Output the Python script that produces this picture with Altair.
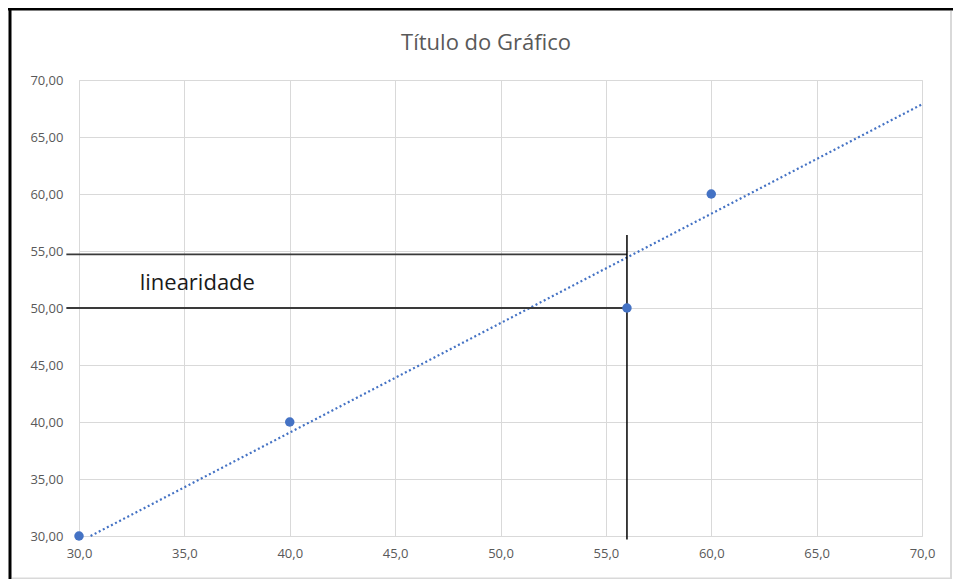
import altair as alt
import pandas as pd

# data points
pts_x = [30, 40, 56, 60]
pts_y = [30, 40, 50, 60]

# dotted linear trendline (as drawn, clipped at the axis minimum)
trend_x = [30.55, 70.0]
trend_y = [30.0, 67.87]

# black guide lines
hline_y = [54.7, 50.0]
hline_x0 = [29.4, 29.4]
hline_x1 = [56.0, 56.0]
vline_x = [56.0]
vline_y0 = [29.7]
vline_y1 = [56.4]

annot_x = [32.88]
annot_y = [52.2]
annot_text = ["linearidade"]

chart_title = ["Título do Gráfico"]

x_ticks = [30, 35, 40, 45, 50, 55, 60, 65, 70]
y_ticks = [30, 35, 40, 45, 50, 55, 60, 65, 70]

FONT = "Open Sans"
GRAY = "#595959"
BLUE = "#4472C4"

xscale = alt.Scale(domain=[30, 70], nice=False, zero=False)
yscale = alt.Scale(domain=[30, 70], nice=False, zero=False)

xaxis = alt.Axis(values=x_ticks, labelExpr="replace(format(datum.value, '.1f'), '.', ',')",
                 title=None, grid=True, gridColor="#d9d9d9", domain=False, ticks=False,
                 labelFlush=False, labelOverlap=False,
                 labelColor=GRAY, labelFont=FONT, labelFontSize=13, labelPadding=11)
yaxis = alt.Axis(values=y_ticks, labelExpr="replace(format(datum.value, '.2f'), '.', ',')",
                 title=None, grid=True, gridColor="#d9d9d9", domain=False, ticks=False,
                 labelFlush=False, labelOverlap=False,
                 labelColor=GRAY, labelFont=FONT, labelFontSize=13, labelPadding=16)

pts = pd.DataFrame({"x": pts_x, "y": pts_y})
trend = pd.DataFrame({"x": trend_x, "y": trend_y})
hl = pd.DataFrame({"y": hline_y, "x0": hline_x0, "x1": hline_x1})
vl = pd.DataFrame({"x": vline_x, "y0": vline_y0, "y1": vline_y1})
ann = pd.DataFrame({"x": annot_x, "y": annot_y, "t": annot_text})

trend_layer = alt.Chart(trend).mark_line(color=BLUE, strokeWidth=2.2, strokeDash=[2, 2.6]).encode(
    x=alt.X("x:Q", scale=xscale, axis=xaxis),
    y=alt.Y("y:Q", scale=yscale, axis=yaxis),
)

h_layer = alt.Chart(hl).mark_rule(color="#3a3a3a", strokeWidth=1.8).encode(
    x=alt.X("x0:Q", scale=xscale), x2="x1:Q", y=alt.Y("y:Q", scale=yscale)
)
v_layer = alt.Chart(vl).mark_rule(color="#000000", strokeWidth=1.5).encode(
    x=alt.X("x:Q", scale=xscale), y=alt.Y("y0:Q", scale=yscale), y2="y1:Q"
)

pt_layer = alt.Chart(pts).mark_circle(color=BLUE, opacity=1, size=90).encode(
    x=alt.X("x:Q", scale=xscale), y=alt.Y("y:Q", scale=yscale)
)

ann_layer = alt.Chart(ann).mark_text(align="left", baseline="middle", font=FONT, fontSize=22,
                                     color="#1a1a1a").encode(
    x=alt.X("x:Q", scale=xscale), y=alt.Y("y:Q", scale=yscale), text="t:N"
)

title_layer = alt.Chart(pd.DataFrame({"t": chart_title})).mark_text(
    align="center", baseline="middle", font=FONT, fontSize=22, color=GRAY
).encode(x=alt.value(407), y=alt.value(-37), text="t:N")

# frame of the picture
frame_top = alt.Chart(pd.DataFrame({"k": [0]})).mark_rule(color="#000000", strokeWidth=3).encode(
    x=alt.value(-71), x2=alt.value(880), y=alt.value(-71))
frame_left = alt.Chart(pd.DataFrame({"k": [0]})).mark_rule(color="#000000", strokeWidth=3).encode(
    x=alt.value(-69), y=alt.value(-72), y2=alt.value(500))
frame_right = alt.Chart(pd.DataFrame({"k": [0]})).mark_rule(color="#d9d9d9", strokeWidth=2).encode(
    x=alt.value(872), y=alt.value(-69), y2=alt.value(499))
frame_bottom = alt.Chart(pd.DataFrame({"k": [0]})).mark_rule(color="#d9d9d9", strokeWidth=2).encode(
    x=alt.value(-67), x2=alt.value(873), y=alt.value(498.5))

chart = alt.layer(
    trend_layer, h_layer, v_layer, pt_layer, ann_layer, title_layer,
    frame_top, frame_left, frame_right, frame_bottom
).properties(
    width=843, height=456,
    autosize=alt.AutoSizeParams(type="none"),
    padding={"left": 71, "top": 72, "right": 31, "bottom": 43},
).configure_view(stroke="#d9d9d9", strokeWidth=1).configure(background="white")

chart.save("out.html", embed_options={"renderer": "svg", "actions": False})
